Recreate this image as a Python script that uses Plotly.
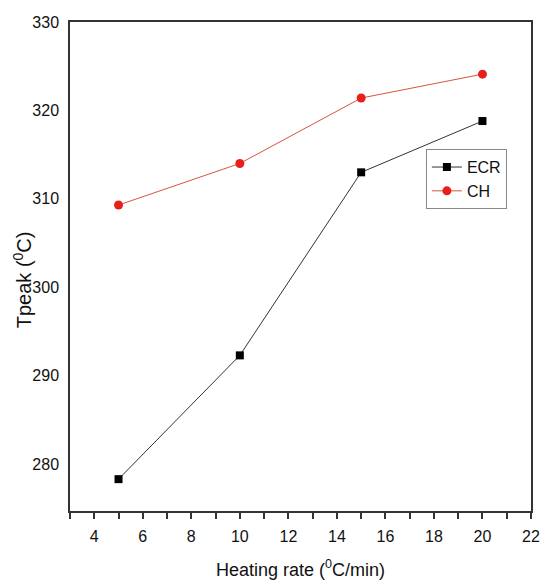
import plotly.graph_objects as go

heating_rate = [5, 10, 15, 20]
ecr_tpeak = [278.3, 292.3, 313.0, 318.8]
ch_tpeak = [309.3, 314.0, 321.4, 324.1]
x_ticks = [4, 6, 8, 10, 12, 14, 16, 18, 20, 22]
y_ticks = [280, 290, 300, 310, 320, 330]

fig = go.Figure()
fig.add_trace(go.Scatter(
    x=heating_rate, y=ecr_tpeak, name="ECR", mode="lines+markers",
    line=dict(color="#333333", width=1),
    marker=dict(symbol="square", size=8, color="black"),
))
fig.add_trace(go.Scatter(
    x=heating_rate, y=ch_tpeak, name="CH", mode="lines+markers",
    line=dict(color="#d9533f", width=1),
    marker=dict(symbol="circle", size=9, color="#e8201c"),
))

font = "Liberation Sans, Arial, sans-serif"
fig.update_layout(
    width=541, height=585,
    margin=dict(l=70, r=10, t=22, b=74),
    paper_bgcolor="white", plot_bgcolor="white",
    font=dict(family=font, size=16, color="#111111"),
    showlegend=True,
    legend=dict(
        x=0.772, y=0.74, xanchor="left", yanchor="top",
        bordercolor="#888888", borderwidth=1, bgcolor="white",
        font=dict(size=16, family=font), tracegroupgap=0,
    ),
    xaxis=dict(
        range=[3, 22], tickvals=x_ticks, showgrid=False, zeroline=False,
        showline=True, linecolor="#333333", linewidth=1.5, mirror=True,
        ticks="outside", ticklen=6, tickcolor="#333333", tickwidth=1.5,
        minor=dict(ticks="outside", dtick=1, tick0=3, ticklen=6, tickcolor="#333333", tickwidth=1.5),
        automargin=False, ticklabelstandoff=4,
        tickfont=dict(size=16),
    ),
    yaxis=dict(
        range=[274.7, 330], tickvals=y_ticks, showgrid=False, zeroline=False,
        showline=True, linecolor="#333333", linewidth=1.5, mirror=True,
        ticks="", ticklabelstandoff=6, automargin=False,
        tickfont=dict(size=16),
    ),
    annotations=[
        dict(text="Heating rate (<sup>0</sup>C/min)", xref="paper", yref="paper",
             x=0.5, y=-0.117, xanchor="center", yanchor="middle", showarrow=False,
             font=dict(size=18, family=font)),
        dict(text="Tpeak (<sup>0</sup>C)", xref="paper", yref="paper",
             x=-0.104, y=0.472, xanchor="center", yanchor="middle", showarrow=False,
             textangle=-90, font=dict(size=20, family=font)),
    ],
)

fig.write_html("out.html", config={"displayModeBar": False},
               post_script="document.body.style.margin='0';document.body.style.overflow='hidden';")
